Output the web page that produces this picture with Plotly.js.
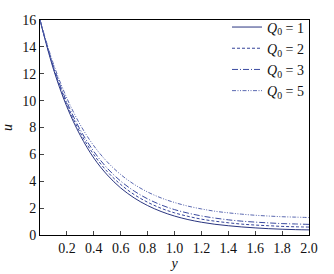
<!DOCTYPE html>
<html>
<head>
<meta charset="utf-8">
<script src="https://cdn.plot.ly/plotly-3.0.1.min.js"></script>
<style>html,body{margin:0;padding:0;background:#fff;}#chart{width:334px;height:274px;}</style>
</head>
<body>
<div id="chart"></div>
<script>
const yVals = [0,0.1,0.2,0.3,0.4,0.5,0.6,0.7,0.8,0.9,1.0,1.1,1.2,1.3,1.4,1.5,1.6,1.7,1.8,1.9,2.0];
const uQ1 = [16,12.34,9.54,7.40,5.73,4.47,3.50,2.76,2.19,1.75,1.41,1.15,0.95,0.80,0.69,0.60,0.53,0.47,0.43,0.40,0.38];
const uQ2 = [16,12.45,9.71,7.61,5.98,4.72,3.76,3.01,2.44,1.99,1.65,1.39,1.18,1.03,0.91,0.81,0.74,0.69,0.64,0.61,0.59];
const uQ3 = [16,12.56,9.89,7.82,6.22,4.97,4.01,3.27,2.69,2.24,1.89,1.63,1.42,1.26,1.13,1.03,0.96,0.90,0.85,0.82,0.79];
const uQ5 = [16,12.73,10.18,8.19,6.64,5.44,4.50,3.77,3.20,2.76,2.42,2.15,1.94,1.77,1.65,1.55,1.47,1.41,1.36,1.33,1.30];
const names = ['<i>Q</i><sub>0</sub> = 1','<i>Q</i><sub>0</sub> = 2','<i>Q</i><sub>0</sub> = 3','<i>Q</i><sub>0</sub> = 5'];
const xTicks = [0.2,0.4,0.6,0.8,1.0,1.2,1.4,1.6,1.8,2.0];
const xTickText = ['0.2','0.4','0.6','0.8','1.0','1.2','1.4','1.6','1.8','2.0'];
const yTicks = [0,2,4,6,8,10,12,14,16];

const series = [uQ1,uQ2,uQ3,uQ5];
const dashes = ['solid','3px,2px','6px,2px,1px,2px','4px,1.5px,1px,1.5px,1px,1.5px'];
const colors = ['#2a3580','#34439a','#3a4aa0','#5a68b0'];
const traces = series.map((s,i)=>({
  x: yVals, y: s, type:'scatter', mode:'lines', name:names[i],
  line:{color:colors[i], width:1, dash:dashes[i], shape:'spline'}
}));

const font = {family:'"Liberation Serif", "DejaVu Serif", serif', size:14, color:'#111'};
const layout = {
  width:334, height:274,
  margin:{l:40, r:25, t:19, b:39},
  paper_bgcolor:'#fff', plot_bgcolor:'#fff',
  font: font,
  showlegend:true,
  legend:{x:1, xanchor:'right', y:1.035, yanchor:'top', bgcolor:'rgba(0,0,0,0)',
    font:{family:font.family, size:14, color:'#111'}, itemwidth:30, tracegroupgap:0},
  xaxis:{range:[0,2], tickvals:xTicks, ticktext:xTickText, ticks:'inside', ticklen:4,
    showgrid:false, zeroline:false, showline:true, linecolor:'#000', linewidth:1, mirror:true,
    tickfont:font, title:{text:'<i>y</i>', font:font, standoff:2}},
  yaxis:{range:[0,16], tickvals:yTicks, ticks:'inside', ticklen:4,
    showgrid:false, zeroline:false, showline:true, linecolor:'#000', linewidth:1, mirror:true,
    tickfont:font, title:{text:'<i>u</i>', font:font, standoff:6}}
};
Plotly.newPlot('chart', traces, layout, {displayModeBar:false, staticPlot:true});
</script>
</body>
</html>
